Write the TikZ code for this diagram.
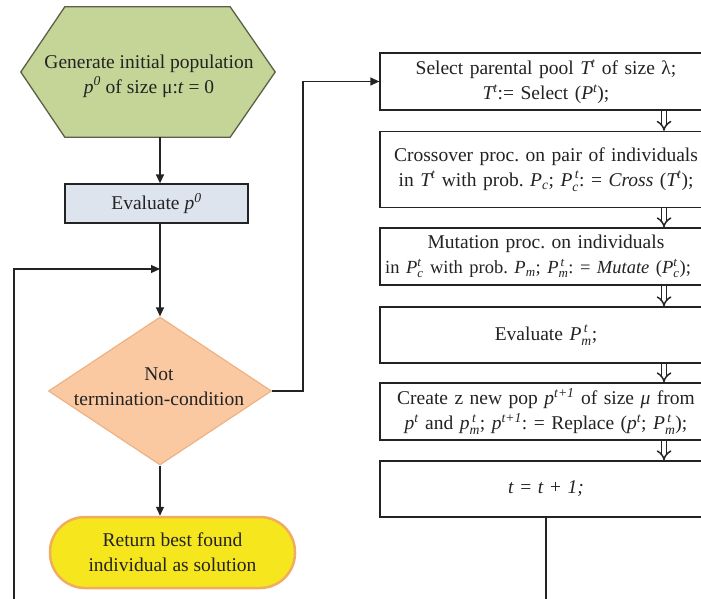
\documentclass[tikz,border=0pt]{standalone}
\usepackage{fontspec}
\usepackage{amsmath}
\setmainfont{Liberation Serif}
\usetikzlibrary{arrows.meta,shapes.geometric,backgrounds}
\newcommand\vv[1]{\textit{#1}}
\definecolor{hexfill}{RGB}{197,213,152}
\definecolor{hexline}{RGB}{90,96,70}
\definecolor{evfill}{RGB}{221,228,238}
\definecolor{diafill}{RGB}{250,201,162}
\definecolor{dialine}{RGB}{236,178,134}
\definecolor{termfill}{RGB}{246,230,30}
\definecolor{termline}{RGB}{240,172,95}
\definecolor{ink}{RGB}{35,35,35}
\frenchspacing
\begin{document}
\begin{tikzpicture}[x=1pt,y=-1pt,
  font=\fontsize{19.5}{25}\selectfont,
  txt/.style={text=ink, align=center, inner sep=0pt},
  box/.style={draw=ink, line width=1.3pt, fill=white, text=ink, text width=332pt, align=center, inner sep=0pt},
  conn/.style={draw=ink, line width=1.3pt, -{Triangle[length=9pt,width=8pt]}},
  dbl/.style={draw=ink, double=white, double distance=3.5pt, line width=1.5pt, -{Implies[scale=1.1]}}]
\useasboundingbox (0,0) rectangle (701,599);
\clip (0,0) rectangle (701,599);

% left column
\node[inner sep=0pt, minimum width=254pt, minimum height=130pt] (gen) at (148,72) {};
\begin{scope}[on background layer]
\draw[fill=hexfill, draw=hexline, line width=1.3pt]
  ([xshift=44pt]gen.north west) -- ([xshift=-45pt]gen.north east) -- (gen.east)
  -- ([xshift=-45pt]gen.south east) -- ([xshift=44pt]gen.south west) -- (gen.west) -- cycle;
\end{scope}
\node[txt] (gentxt) at (149,76)
  {Generate initial population\\ $\vv{p}^{\textit{0}}$ of size μ:\vv{t} = 0};

\node[txt, draw=ink, line width=1.3pt, fill=evfill, minimum width=183pt, minimum height=39pt] (ev) at (156.5,203.5)
  {Evaluate $\vv{p}^{\textit{0}}$};

\node[diamond, draw=dialine, fill=diafill, line width=1.2pt, minimum width=223pt, minimum height=148pt, inner sep=0pt] (dia) at (160,391) {};
\node[txt] (diatxt) at (159,387) {Not\\termination-condition};

\node[txt, draw=termline, fill=termfill, line width=2.5pt, rounded corners=35pt, minimum width=245pt, minimum height=71pt] (term) at (172.5,552.5)
  {Return best found\\individual as solution};

% right column
\node[box, minimum height=57pt] (sel) at (546,81.5)
  {Select parental pool $\vv{T}^{\vv{t}}$ of size λ;\\$\vv{T}^{\vv{t}}$:= Select ($\vv{P}^{\vv{t}}$);};
\node[box, minimum height=76pt] (cro) at (546,169.5)
  {Crossover proc. on pair of individuals\\in $\vv{T}^{\vv{t}}$ with prob. $\vv{P}_{\vv{c}}$; $\vv{P}_{\vv{c}}^{\,\vv{t}}$: = \vv{Cross} ($\vv{T}^{\vv{t}}$);};
\node[box, minimum height=57pt] (mut) at (546,256.5)
  {Mutation proc. on individuals\\\makebox[\linewidth][c]{\hspace*{-16pt}\fontsize{18.5}{25}\selectfont in $\vv{P}_{\vv{c}}^{\vv{t}}$ with prob. $\vv{P}_{\vv{m}}$; $\vv{P}_{\vv{m}}^{\,\vv{t}}$: = \vv{Mutate} ($\vv{P}_{\vv{c}}^{\vv{t}}$);}};
\node[box, minimum height=56pt] (evm) at (546,335)
  {Evaluate $\vv{P}_{\vv{m}}^{\,\vv{t}}$;};
\node[box, minimum height=57pt] (cre) at (546,411.5)
  {Create z new pop $\vv{p}^{\vv{t}\textit{+1}}$ of size \vv{μ} from\\$\vv{p}^{\vv{t}}$ and $\vv{p}_{\vv{m}}^{\,\vv{t}}$; $\vv{p}^{\vv{t}\textit{+1}}$: = Replace ($\vv{p}^{\vv{t}}$; $\vv{P}_{\vv{m}}^{\,\vv{t}}$);};
\node[box, minimum height=56pt] (tt) at (546,489)
  {\vv{t} = \vv{t} + \vv{1;}};

% helper coordinates
\coordinate (col) at (160,0);
\coordinate (join) at (160,269);
\coordinate (lb) at (14,630);
\coordinate (rb) at (303,0);
\coordinate (dx) at (664,0);

% connectors
\draw[conn] (gen.south -| col) -- (ev.north -| col);
\draw[conn] (ev.south -| col) -- (dia.north);
\draw[conn] (dia.south) -- (term.north -| dia.south);
\draw[conn] (dia.east) -- (dia.east -| rb) -- (rb |- sel.west) -- (sel.west);
\draw[conn] (tt.south) -- (tt.south |- lb) -- (lb) -- (lb |- join) -- (join);

\draw[dbl] (sel.south -| dx) -- (cro.north -| dx);
\draw[dbl] (cro.south -| dx) -- (mut.north -| dx);
\draw[dbl] (mut.south -| dx) -- (evm.north -| dx);
\draw[dbl] (evm.south -| dx) -- (cre.north -| dx);
\draw[dbl] (cre.south -| dx) -- (tt.north -| dx);
\end{tikzpicture}
\end{document}
